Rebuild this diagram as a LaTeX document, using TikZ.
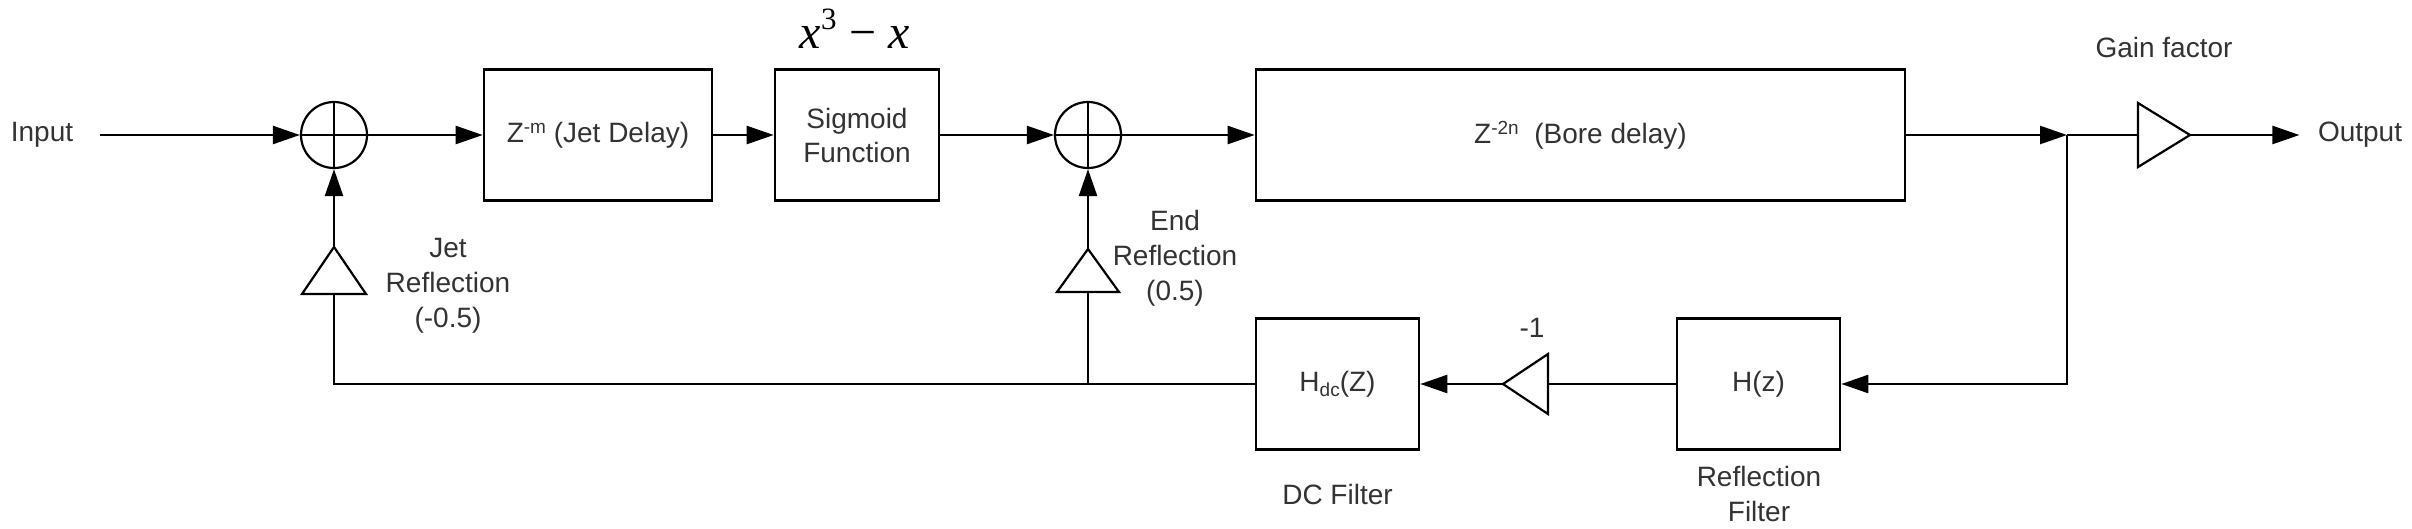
\documentclass[tikz,border=0pt]{standalone}
\usepackage{fontspec}
\setmainfont{Liberation Sans}
\newfontfamily\tnr{Liberation Serif}
\usetikzlibrary{arrows.meta}
\definecolor{txt}{HTML}{333333}
\newcommand\supx[1]{\raisebox{9pt}{\fontsize{19}{19}\selectfont #1}}
\newcommand\subx[1]{\raisebox{-5pt}{\fontsize{19}{19}\selectfont #1}}
\begin{document}
\begin{tikzpicture}[x=1pt,y=-1pt,
  every node/.style={font=\fontsize{28}{35}\selectfont, text=txt},
  blk/.style={draw=black, line width=2.6pt, inner sep=0pt, minimum height=131pt},
  sumn/.style={draw=black, circle, line width=2.2pt, minimum size=66pt, inner sep=0pt,
    path picture={\draw[line width=2.2pt] (path picture bounding box.north) -- (path picture bounding box.south)
      (path picture bounding box.west) -- (path picture bounding box.east);}},
  wire/.style={line width=2.4pt},
  arr/.style={wire, -{Triangle[length=27pt,width=18pt]}},
  tri/.style={line width=2.2pt, line join=miter}]
\useasboundingbox (0,0) rectangle (2412,528);

% main row
\node (in) at (42,135) {Input};
\node[sumn] (s1) at (334,135) {};
\node[blk, minimum width=228pt] (jd) at (598,135) {Z\supx{-m} (Jet Delay)};
\node[blk, minimum width=164pt, align=center, font=\fontsize{28}{34}\selectfont] (sig) at (857,135) {Sigmoid\\Function};
\node[anchor=base, inner sep=0pt, text=black] (fx) at (855,48)
  {\tnr\fontsize{48}{48}\selectfont\itshape x\upshape\raisebox{19pt}{\fontsize{31}{31}\selectfont 3}\hspace{13pt}−\hspace{12pt}\itshape x};
\node[sumn] (s2) at (1088,135) {};
\node[blk, minimum width=649pt] (bore) at (1580.5,135) {Z\supx{-2n}\ \ (Bore delay)};
\coordinate (J) at (2067,135);
\coordinate (gb) at (2138,135);
\coordinate (ga) at (2190,135);
\draw[tri] (2138,103) -- (ga) -- (2138,167) -- cycle;
\node (gl) at (2164,47) {Gain factor};
\node (out) at (2360,135) {Output};

% feedback row
\node[blk, minimum width=163pt] (hz) at (1758.5,384) {H(z)};
\node[blk, minimum width=163pt] (hdc) at (1337.5,384) {H\subx{dc}(Z)};
\coordinate (na) at (1503,384);
\coordinate (nb) at (1548,384);
\draw[tri] (nb) -- (1548,354) -- (na) -- (1548,414) -- cycle;
\node (nl) at (1532,328) {-1};
\node (dcl) at (1337.5,494) {DC Filter};
\node[align=center] (rfl) at (1759,494) {Reflection\\Filter};

% reflection gains
\coordinate (jta) at (334,247);
\coordinate (jtb) at (334,294);
\draw[tri] (302,294) -- (jta) -- (366,294) -- cycle;
\node[align=center] (jl) at (448,286) {Jet\\Reflection\\(-0.5)};
\coordinate (eta) at (1088,249);
\coordinate (etb) at (1088,292);
\draw[tri] (1057,292) -- (eta) -- (1119,292) -- cycle;
\node[align=center] (el) at (1175,258) {End\\Reflection\\(0.5)};

% connectors
\draw[arr] ([xshift=23pt]in.east) -- (s1);
\draw[arr] (s1) -- (jd);
\draw[arr] (jd) -- (sig);
\draw[arr] (sig) -- (s2);
\draw[arr] (s2) -- (bore);
\draw[arr] (bore) -- (J);
\draw[wire] (J) -- (gb);
\draw[arr] (ga) -- ([xshift=-15pt]out.west);
\draw[arr] (J) |- (hz);
\draw[wire] (hz) -- (nb);
\draw[arr] (na) -- (hdc);
\draw[wire] (hdc) -- (jtb |- hdc) -- (jtb);
\draw[wire] (etb) -- (etb |- hdc);
\draw[arr] (jta) -- (s1);
\draw[arr] (eta) -- (s2);
\end{tikzpicture}
\end{document}
